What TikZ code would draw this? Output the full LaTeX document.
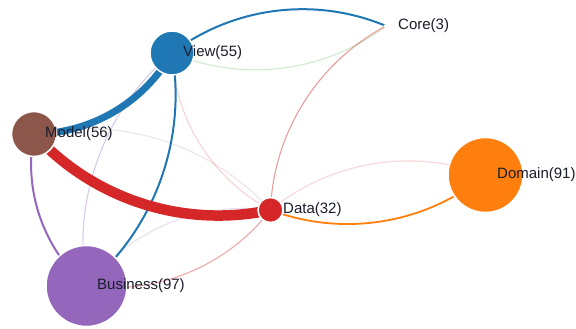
\documentclass[tikz,border=0pt]{standalone}
\usepackage{fontspec}
\setmainfont{Liberation Sans}
\usetikzlibrary{backgrounds}

\definecolor{cview}{HTML}{1F77B4}
\definecolor{cdomain}{HTML}{FF7F0E}
\definecolor{ccore}{HTML}{2CA02C}
\definecolor{cdata}{HTML}{D62728}
\definecolor{cbusiness}{HTML}{9467BD}
\definecolor{cmodel}{HTML}{8C564B}
\definecolor{labelink}{HTML}{1A1D2A}

\tikzset{
  bubble/.style={circle, inner sep=0pt, draw=white, line width=1.5pt},
  tag/.style={anchor=west, inner sep=0pt, text=labelink,
              font=\fontsize{15}{17}\selectfont},
  arcl/.style={bend left=30, looseness=0.91},
  faint/.style={line width=1.1pt, opacity=#1},
}

\begin{document}
\begin{tikzpicture}[x=1pt,y=1pt]
\useasboundingbox (0,0) rectangle (576,329);

% nodes, sized by their counts
\node[bubble, fill=cview,     minimum size=44pt] (view)     at (172,276)   {};
\node[bubble, fill=cmodel,    minimum size=45pt] (model)    at (34,195)    {};
\node[bubble, fill=ccore,     minimum size=3pt]  (core)     at (386,303)   {};
\node[bubble, fill=cdomain,   minimum size=75pt] (domain)   at (485.5,154) {};
\node[bubble, fill=cdata,     minimum size=25pt] (data)     at (270.5,119) {};
\node[bubble, fill=cbusiness, minimum size=81pt] (business) at (86.5,43)   {};

% links, drawn under the nodes, each coloured by its source
\begin{scope}[on background layer]
  \fill[white] (0,0) rectangle (576,329);
  % faint links
  \draw[ccore, faint=0.22]     (core.center)     to[arcl] (view.center);
  \draw[cdata, faint=0.45]     (data.center)     to[arcl] (core.center);
  \draw[cdata, faint=0.18]     (data.center)     to[arcl] (domain.center);
  \draw[cdata, faint=0.2]      (data.center)     to[arcl] (view.center);
  \draw[cdata, faint=0.4]      (data.center)     to[arcl] (business.center);
  \draw[cmodel, faint=0.15]    (model.center)    to[arcl] (data.center);
  \draw[cbusiness, faint=0.35] (business.center) to[arcl] (view.center);
  \draw[cbusiness, faint=0.2]  (business.center) to[arcl] (data.center);
  % strong links
  \draw[cview, line width=2pt]      (view.center)     to[arcl] (core.center);
  \draw[cview, line width=2pt]      (view.center)     to[arcl] (business.center);
  \draw[cbusiness, line width=2pt]  (business.center) to[arcl] (model.center);
  \draw[cdomain, line width=1.8pt]  (domain.center)   to[arcl] (data.center);
  \draw[cview, line width=7pt]      (view.center)     to[arcl] (model.center);
  \draw[cdata, line width=10.5pt]   (data.center)     to[arcl] (model.center);
\end{scope}

% labels
\node[tag] (viewlbl)     at ([xshift=11pt]view.center)       {View(55)};
\node[tag] (modellbl)    at ([xshift=11pt]model.center)      {Model(56)};
\node[tag] (corelbl)     at ([xshift=12pt]core.center)       {Core(3)};
\node[tag] (domainlbl)   at ([xshift=11.5pt]domain.center)   {Domain(91)};
\node[tag] (datalbl)     at ([xshift=12.5pt]data.center)     {Data(32)};
\node[tag] (businesslbl) at ([xshift=10.5pt]business.center) {Business(97)};
\end{tikzpicture}
\end{document}
